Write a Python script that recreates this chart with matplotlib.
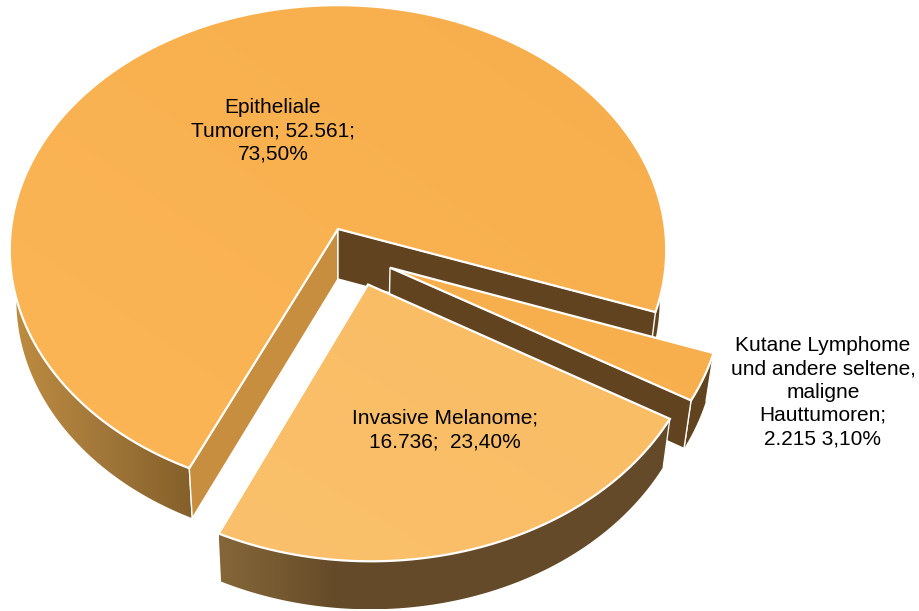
import numpy as np
import matplotlib
matplotlib.use("Agg")
import matplotlib.pyplot as plt
from matplotlib.colors import to_rgb
from matplotlib.patches import Polygon

# === DATA ===
# in drawing order, clockwise on screen
values = [52561, 2215, 16736]
labels = ["Epitheliale\nTumoren; 52.561;\n73,50%",
          "Kutane Lymphome\nund andere seltene,\nmaligne\nHauttumoren;\n2.215 3,10%",
          "Invasive Melanome;\n16.736;  23,40%"]

# === STYLE / GEOMETRY ===
START_ANGLE = 114.8   # deg, clockwise from the right on the pie plane
explode = [(0.0, 0.0), (0.157, 0.157), (0.09, 0.224)]
depths = [50, 48, 48]
top_colors = [("#f7ae4c", "#fcb656"), ("#f7ae4c", "#f9b250"), ("#f9bc64", "#fbc06b")]
rim_stops = [([15, 100, 190, 600, 650], ["#bd8c40", "#a2773a", "#85602a", "#85602a", "#61441f"]),
             ([0, 920], ["#61441f", "#61441f"]),
             ([220, 280, 335, 900], ["#846639", "#75592f", "#644a29", "#644a29"])]
cut_colors = ["#c68e3e", "#61441f", "#61441f"]
label_pos = [(273, 131), (823, 392), (445, 430)]

CX, CY = 338, 229     # pie centre in pixels
RX, RY = 327, 243
K = 0.0857            # perspective strength
X_SHRINK = 0.98


def project(u, v):
    w = 1 - K * v
    return CX + RX * u / w, CY + RY * v / w


def drop(x, y, depth):
    return CX + (x - CX) * X_SHRINK, y + depth


def clipped_image(ax, poly, img):
    xs, ys = poly[:, 0], poly[:, 1]
    im = ax.imshow(img, extent=(xs.min(), xs.max(), ys.max(), ys.min()),
                   aspect="auto", interpolation="bilinear", zorder=2)
    patch = Polygon(poly, closed=True, transform=ax.transData, fc="none", ec="none")
    ax.add_patch(patch)
    im.set_clip_path(patch)


def diagonal_fill(ax, poly, c0, c1):
    n = 64
    gx, gy = np.meshgrid(np.linspace(1, 0, n), np.linspace(0, 1, n))
    t = ((gx + gy) / 2)[..., None]
    clipped_image(ax, poly, np.array(to_rgb(c0)) * (1 - t) + np.array(to_rgb(c1)) * t)


def rim_fill(ax, poly, stops_x, stops_c):
    # horizontal gradient, colour depends on x only
    xs = np.linspace(poly[:, 0].min(), poly[:, 0].max(), 400)
    rgb = np.array([to_rgb(c) for c in stops_c])
    row = np.column_stack([np.interp(xs, stops_x, rgb[:, k]) for k in range(3)])
    clipped_image(ax, poly, row[None, :, :])


fig = plt.figure(figsize=(9.2, 6.11), dpi=100)
ax = fig.add_axes([0, 0, 1, 1])

shares = np.array(values) / sum(values) * 360
angle = START_ANGLE
for i, share in enumerate(shares):
    ou, ov = explode[i]
    th = np.radians(np.linspace(angle, angle + share, int(share * 2) + 2))
    rx, ry = project(ou + np.cos(th), ov + np.sin(th))
    ax_, ay_ = project(ou, ov)
    brx, bry = drop(rx, ry, depths[i])
    bax, bay = drop(ax_, ay_, depths[i])

    # rim wall
    rim = np.column_stack([np.r_[rx, brx[::-1]], np.r_[ry, bry[::-1]]])
    rim_fill(ax, rim, *rim_stops[i])
    for j in ([0] if i != 1 else [0, -1]):
        ax.plot([rx[j], brx[j]], [ry[j], bry[j]], color="white", lw=0.9, zorder=2)

    # cut faces
    if i == 0:
        # towards the front left, then the dark one on the right
        faces = [((rx[0], ry[0]), (brx[0], bry[0]), (bax, bay), (ax_, ay_), cut_colors[0]),
                 ((rx[-1], ry[-1]), (brx[-1], bry[-1]), (bax, bay), (ax_, ay_), cut_colors[1])]
    elif i == 1:
        faces = [((rx[-1], ry[-1]), (brx[-1], bry[-1]), (bax, bay), (ax_, ay_), cut_colors[1])]
    else:
        faces = []
    for p0, p1, p2, p3, col in faces:
        ax.add_patch(Polygon([p0, p1, p2, p3], closed=True, fc=col, ec="white",
                             lw=1.0, joinstyle="miter", zorder=2))

    # top surface
    poly = np.column_stack([np.r_[ax_, rx], np.r_[ay_, ry]])
    diagonal_fill(ax, poly, *top_colors[i])
    ax.add_patch(Polygon(poly, closed=True, fc="none", ec="white", lw=1.6,
                         joinstyle="miter", zorder=2))

    ax.text(*label_pos[i], labels[i], ha="center", va="center", ma="center",
            fontsize=15, family="Liberation Sans", color="black",
            linespacing=1.29, zorder=5)
    angle += share

ax.set_xlim(0, 920)
ax.set_ylim(611, 0)
ax.axis("off")
fig.savefig("out.png", dpi=100, facecolor="white")
